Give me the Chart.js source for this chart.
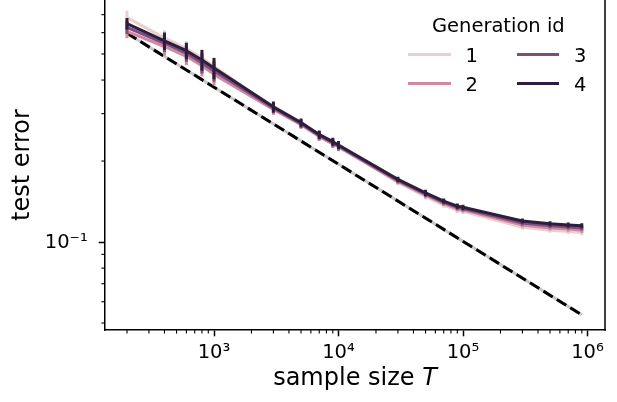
<!DOCTYPE html>
<html><head><meta charset="utf-8">
<script src="https://cdn.jsdelivr.net/npm/chart.js@4/dist/chart.umd.min.js"></script>
<style>
html,body{margin:0;padding:0;background:#fff;overflow:hidden;}
#wrap{position:relative;width:617px;height:402px;overflow:hidden;background:#fff;}
#c{position:absolute;left:0;top:-13px;}
</style></head><body>
<div id="wrap"><canvas id="c" width="617" height="415"></canvas></div>
<script>
// ---- data ----
const sampleSizes = [200,400,600,800,1000,3000,5000,7000,9000,10000,30000,50000,70000,90000,100000,300000,500000,700000,900000];
const generationIds = ['1','2','3','4'];
const gen1 = [0.683,0.574,0.523,0.483,0.449,0.3155,0.275,0.248,0.233,0.227,0.1665,0.1478,0.1372,0.1312,0.1302,0.1135,0.1107,0.1095,0.1085];
const gen2 = [0.607,0.533,0.490,0.452,0.420,0.311,0.273,0.2465,0.2315,0.2255,0.168,0.1495,0.139,0.133,0.1318,0.1157,0.1128,0.1117,0.1106];
const gen3 = [0.628,0.548,0.503,0.463,0.432,0.315,0.2755,0.249,0.234,0.2275,0.1695,0.151,0.1405,0.1345,0.1332,0.1177,0.115,0.1138,0.1128];
const gen4 = [0.648,0.559,0.514,0.475,0.443,0.318,0.278,0.251,0.236,0.2295,0.171,0.1524,0.142,0.136,0.1346,0.1197,0.117,0.1157,0.115];
const err1 = [0.04,0.038,0.035,0.038,0.036,0.013,0.009,0.008,0.007,0.007,0.004,0.004,0.003,0.003,0.003,0.0025,0.0025,0.0025,0.0025];
const err2 = [0.035,0.04,0.035,0.04,0.038,0.014,0.01,0.009,0.008,0.008,0.004,0.004,0.003,0.003,0.003,0.0025,0.0025,0.0025,0.0025];
const err3 = [0.035,0.04,0.035,0.04,0.038,0.014,0.01,0.009,0.008,0.008,0.004,0.004,0.003,0.003,0.003,0.0025,0.0025,0.0025,0.0025];
const err4 = [0.032,0.042,0.036,0.042,0.04,0.015,0.01,0.009,0.008,0.008,0.004,0.004,0.003,0.003,0.003,0.0025,0.0025,0.0025,0.0025];
const refX = [200, 900000];
const refY = [0.597, 0.0536];
const xMajorTicks = [1e3, 1e4, 1e5, 1e6];
const xTickLabels = ['10³', '10⁴', '10⁵', '10⁶'];
const xMinorTicks = [200,300,400,500,600,700,800,900,2000,3000,4000,5000,6000,7000,8000,9000,20000,30000,40000,50000,60000,70000,80000,90000,200000,300000,400000,500000,600000,700000,800000,900000];
const yMajorTicks = [0.1];
const yTickLabels = ['10⁻¹'];
const yMinorTicks = [0.05,0.06,0.07,0.08,0.09,0.2,0.3,0.4,0.5,0.6,0.7];
const xRange = [133.2, 1.382e6];
const yRange = [0.0471, 0.7935];
const legendTitle = 'Generation id';
const xTitle = 'sample size ';
const xTitleItalic = 'T';
const yTitle = 'test error';

// ---- styles ----
const FONT = "'DejaVu Sans'";
const TICK_SIZE = 19.5;
const LABEL_SIZE = 24;
const colors = ['#ebcfcc', '#cf8aa0', '#7e4c7e', '#2d1e3e'];
const LW = 3;
const series = [gen1, gen2, gen3, gen4];
const errs = [err1, err2, err3, err4];

const datasets = [];
datasets.push({
  data: refX.map((x, i) => ({x, y: refY[i]})),
  borderColor: '#c8c8c8', borderWidth: LW, order: 20
});
datasets.push({
  data: refX.map((x, i) => ({x, y: refY[i]})),
  borderColor: '#000', borderWidth: LW, borderDash: [11, 4.8], order: 19
});
series.forEach((s, k) => {
  datasets.push({
    label: generationIds[k],
    data: sampleSizes.map((x, i) => ({x, y: s[i]})),
    borderColor: colors[k], borderWidth: LW, order: 10 - 2 * k
  });
  const eb = [];
  sampleSizes.forEach((x, i) => {
    eb.push({x, y: s[i] - errs[k][i]});
    eb.push({x, y: s[i] + errs[k][i]});
    eb.push({x, y: null});
  });
  datasets.push({
    data: eb, borderColor: colors[k], borderWidth: LW, spanGaps: false, order: 9 - 2 * k
  });
});

const decor = {
  id: 'decor',
  afterDraw(chart) {
    const {ctx, chartArea: a, scales: {x, y}} = chart;
    ctx.save();
    ctx.strokeStyle = '#000';
    ctx.lineWidth = 1.5;
    ctx.beginPath(); ctx.moveTo(a.right, 0); ctx.lineTo(a.right, a.bottom + 0.75); ctx.stroke();
    ctx.lineWidth = 1.1;
    xMinorTicks.forEach(v => {
      const px = x.getPixelForValue(v);
      if (px < a.left || px > a.right) return;
      ctx.beginPath(); ctx.moveTo(px, a.bottom); ctx.lineTo(px, a.bottom + 3.6); ctx.stroke();
    });
    yMinorTicks.forEach(v => {
      const py = y.getPixelForValue(v);
      if (py < a.top || py > a.bottom) return;
      ctx.beginPath(); ctx.moveTo(a.left, py); ctx.lineTo(a.left - 3.6, py); ctx.stroke();
    });
    // x title with italic T
    ctx.fillStyle = '#000';
    ctx.textBaseline = 'alphabetic';
    ctx.textAlign = 'left';
    const f1 = LABEL_SIZE + 'px ' + FONT, f2 = 'italic ' + LABEL_SIZE + 'px ' + FONT;
    ctx.font = f1; const w1 = ctx.measureText(xTitle).width;
    ctx.font = f2; const w2 = ctx.measureText(xTitleItalic).width;
    const cx = (a.left + a.right) / 2;
    const by = a.bottom + 55;
    ctx.font = f1; ctx.fillText(xTitle, cx - (w1 + w2) / 2, by);
    ctx.font = f2; ctx.fillText(xTitleItalic, cx - (w1 + w2) / 2 + w1, by);
    // legend
    const t0 = a.top;
    ctx.font = TICK_SIZE + 'px ' + FONT;
    ctx.textAlign = 'center';
    ctx.fillText(legendTitle, 498.3, t0 + 32);
    ctx.textAlign = 'left';
    const cols = [[408, 451, 465.5], [517, 559, 574]];
    const rows = [t0 + 54.5, t0 + 83.5];
    generationIds.forEach((g, k) => {
      const c = cols[Math.floor(k / 2)], r = rows[k % 2];
      ctx.strokeStyle = colors[k]; ctx.lineWidth = LW;
      ctx.beginPath(); ctx.moveTo(c[0], r); ctx.lineTo(c[1], r); ctx.stroke();
      ctx.fillText(g, c[2], r + 7.3);
    });
    ctx.restore();
  }
};

new Chart(document.getElementById('c'), {
  type: 'line',
  data: {datasets},
  plugins: [decor],
  options: {
    responsive: false, animation: false, devicePixelRatio: 1,
    layout: {padding: {left: 0, right: 12, top: 0, bottom: 0}},
    plugins: {legend: {display: false}, tooltip: {enabled: false}},
    elements: {point: {radius: 0, hoverRadius: 0}, line: {tension: 0, borderJoinStyle: 'round', borderCapStyle: 'butt', fill: false}},
    scales: {
      x: {
        type: 'logarithmic', position: 'bottom', min: xRange[0], max: xRange[1], bounds: 'data',
        afterBuildTicks: s => { s.ticks = xMajorTicks.map(v => ({value: v})); },
        afterFit: s => { s.height = 72; },
        grid: {display: true, drawOnChartArea: false, drawTicks: true, tickLength: 6.3, tickWidth: 1.5, tickColor: '#000'},
        border: {display: true, color: '#000', width: 1.5},
        ticks: {autoSkip: false, maxRotation: 0, padding: 4.5, color: '#000', font: {family: FONT, size: TICK_SIZE},
          callback: (v, i) => xTickLabels[i]},
        title: {display: false}
      },
      y: {
        type: 'logarithmic', position: 'left', min: yRange[0], max: yRange[1], bounds: 'data',
        afterBuildTicks: s => { s.ticks = yMajorTicks.map(v => ({value: v})); },
        afterFit: s => { s.width = 105; },
        grid: {display: true, drawOnChartArea: false, drawTicks: true, tickLength: 6.3, tickWidth: 1.5, tickColor: '#000'},
        border: {display: true, color: '#000', width: 1.5},
        ticks: {autoSkip: false, padding: 11, color: '#000', font: {family: FONT, size: TICK_SIZE, lineHeight: '2px'},
          callback: (v, i) => ['', yTickLabels[i]]},
        title: {display: true, text: yTitle, color: '#000', font: {family: FONT, size: LABEL_SIZE}, padding: {top: 8, bottom: 0}}
      }
    }
  }
});
</script>
</body></html>
